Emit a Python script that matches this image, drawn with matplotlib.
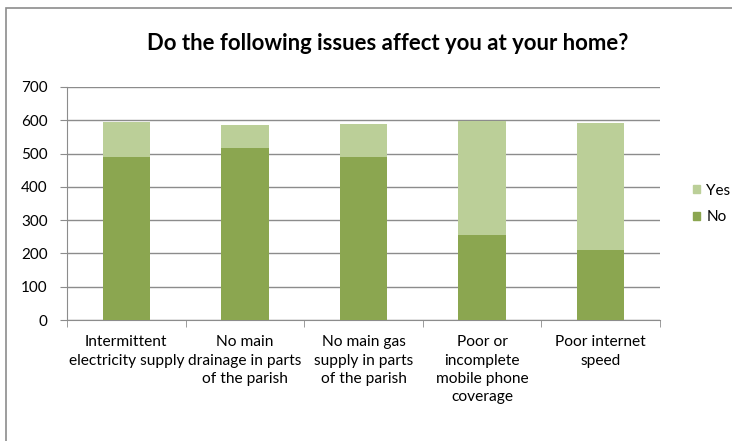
import matplotlib.pyplot as plt
import matplotlib.patches as mpatches
import numpy as np

plt.rcParams.update({
    "font.family": ["Lato", "DejaVu Sans"],
    "font.size": 11,
})

categories = [
    "Intermittent\nelectricity supply",
    "No main\ndrainage in parts\nof the parish",
    "No main gas\nsupply in parts\nof the parish",
    "Poor or\nincomplete\nmobile phone\ncoverage",
    "Poor internet\nspeed",
]
no_counts = [491, 517, 489, 254, 209]
yes_counts = [103, 70, 101, 345, 383]
y_ticks = [0, 100, 200, 300, 400, 500, 600, 700]

color_no = "#8BA650"
color_yes = "#BBCF98"
grid_color = "#8C8C8C"

W, H = 732, 441
fig = plt.figure(figsize=(W / 100, H / 100), dpi=100)

# outer chart frame (right and bottom edges run off the canvas)
fig.patches.append(mpatches.Rectangle(
    (6 / W, -0.1), 1.2, (H - 8) / H + 0.1, transform=fig.transFigure,
    fill=False, edgecolor="#8C8C8C", linewidth=1.2))

ax = fig.add_axes([67 / W, 1 - 320 / H, (660 - 67) / W, (320 - 87) / H])

x = np.arange(len(categories))
ax.bar(x, no_counts, width=0.4, color=color_no, label="No", zorder=3)
ax.bar(x, yes_counts, width=0.4, bottom=no_counts, color=color_yes,
       label="Yes", zorder=3)

ax.set_xlim(-0.5, len(categories) - 0.5)
ax.set_ylim(0, 700)
ax.set_yticks(y_ticks)
ax.yaxis.grid(True, color=grid_color, linewidth=1.0, zorder=0)
ax.set_axisbelow(True)

ax.set_xticks(x)
ax.set_xticklabels(categories, fontsize=11.2, linespacing=1.4)
ax.tick_params(axis="x", length=0, pad=11)
ax.set_xticks(np.arange(len(categories) + 1) - 0.5, minor=True)
ax.tick_params(axis="x", which="minor", length=5, color=grid_color,
               direction="out")
ax.tick_params(axis="y", length=5, color=grid_color, labelsize=11, pad=9)

for side in ("top", "right"):
    ax.spines[side].set_visible(False)
for side in ("left", "bottom"):
    ax.spines[side].set_color(grid_color)

fig.text(388 / W, 1 - 44 / H, "Do the following issues affect you at your home?",
         ha="center", va="center", fontsize=15.9, fontweight="bold")

handles = [mpatches.Patch(color=color_yes), mpatches.Patch(color=color_no)]
fig.legend(handles, ["Yes", "No"], loc="center left",
           bbox_to_anchor=(679 / W, 1 - 204 / H), frameon=False,
           handlelength=0.5, handleheight=0.5, handletextpad=0.4,
           labelspacing=0.85, fontsize=11)

fig.savefig("out.png", dpi=100)
